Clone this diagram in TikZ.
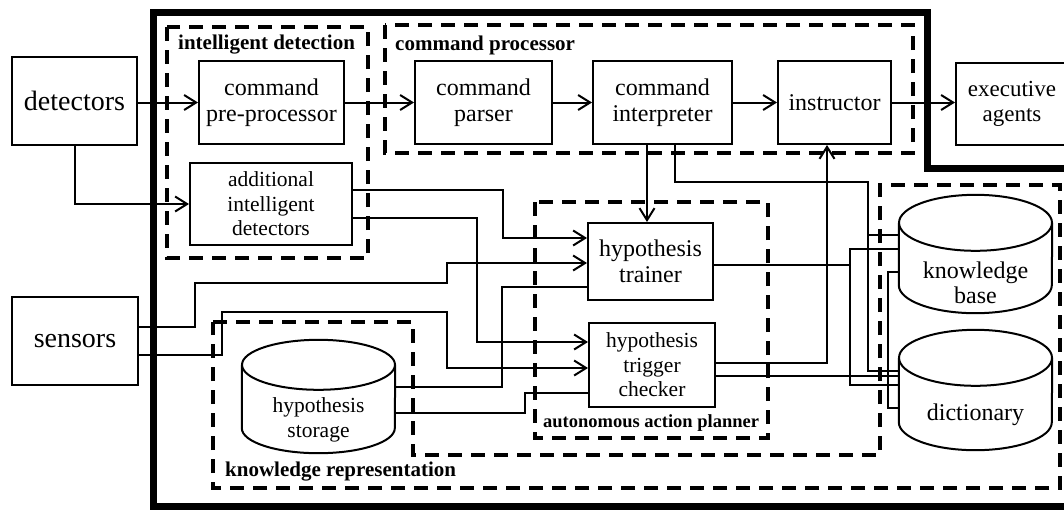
\documentclass[tikz,border=0pt]{standalone}
\usepackage{fontspec}
\setmainfont{Liberation Serif}
\usetikzlibrary{arrows.meta,calc}
\newcommand\cylout[3]{%
  \draw[cylline] ([yshift=-#3pt]#1.north west) -- ([yshift=#3pt]#1.south west)
     arc[start angle=180,end angle=360,x radius=#2,y radius=#3] -- ([yshift=-#3pt]#1.north east);
  \draw[cylline] ([yshift=-#3pt]#1.north) ellipse [x radius=#2,y radius=#3];}
\begin{document}
\begin{tikzpicture}[x=1pt,y=1pt,
  box/.style={draw, line width=2pt, inner sep=0pt, align=center, fill=white},
  cylline/.style={line width=2pt},
  dbox/.style={line width=4pt, dash pattern=on 14pt off 9pt},
  conn/.style={line width=2pt},
  arr/.style={conn, -{Straight Barb[length=12pt,width=15pt]}},
  outer/.style={line width=7pt},
  lbl/.style={font=\bfseries\fontsize{21}{22}\selectfont, anchor=west, inner sep=0pt},
  big/.style={font=\fontsize{28}{30}\selectfont},
  mid/.style={font=\fontsize{24}{25.5}\selectfont},
  small/.style={font=\fontsize{21.5}{24.5}\selectfont}
]
\clip (0,0) rectangle (1064,-509);
\fill[white] (0,0) rectangle (1064,-509);

% dashed groups
\draw[dbox] (167,-27) rectangle (368,-258);
\draw[dbox] (385,-25) rectangle (913,-153);
\draw[dbox] (535,-202) rectangle (768,-438);
\draw[dbox] (213,-322) -- (413,-322) -- (413,-455) -- (880,-455) -- (880,-185)
   -- (1060,-185) -- (1060,-488) -- (213,-488) -- cycle;

% outer border
\draw[outer] (1075,-168) -- (927,-168) -- (927,-12) -- (153,-12) -- (153,-506) -- (1075,-506);

% group labels
\node[lbl] (lid) at (178,-45) {intelligent detection};
\node[lbl] (lcp) at (395,-45) {command processor};
\node[lbl, font=\bfseries\fontsize{18.5}{20}\selectfont] (lap) at (543,-423) {autonomous action planner};
\node[lbl] (lkr) at (225,-472) {knowledge representation};

% nodes
\node[box, big, minimum width=125, minimum height=88] (det) at (74.5,-101) {detectors};
\node[box, big, minimum width=126, minimum height=88] (sen) at (75,-341) {sensors};
\node[box, mid, minimum width=145, minimum height=83] (pre) at (271.5,-102.5) {command\\pre-processor};
\node[box, small, minimum width=162, minimum height=82] (add) at (271,-204) {additional\\intelligent\\detectors};
\node[box, mid, minimum width=137, minimum height=83] (par) at (483.5,-102.5) {command\\parser};
\node[box, mid, minimum width=139, minimum height=83] (int) at (662.5,-102.5) {command\\interpreter};
\node[box, mid, minimum width=113, minimum height=83] (ins) at (834.5,-102.5) {instructor};
\node[box, font=\fontsize{23}{25}\selectfont, minimum width=112, minimum height=82] (exe) at (1012,-104) {executive\\agents};
\node[box, mid, minimum width=125, minimum height=77] (tra) at (650.5,-261.5) {hypothesis\\trainer};
\node[box, small, minimum width=126, minimum height=84] (chk) at (652,-365) {hypothesis\\trigger\\checker};

% cylinders
\node[inner sep=0pt, minimum width=153, minimum height=113] (sto) at (318.5,-396.5) {};
\node[inner sep=0pt, minimum width=153, minimum height=118] (kb) at (975.5,-254) {};
\node[inner sep=0pt, minimum width=153, minimum height=120] (dic) at (975.5,-390) {};
\cylout{sto}{76.5}{25}
\cylout{kb}{76.5}{28}
\cylout{dic}{76.5}{28}
\node[small, align=center] (stot) at (318.5,-420) {hypothesis\\storage};
\node[mid, align=center] (kbt) at (975.5,-283) {knowledge\\base};
\node[mid] (dict) at (975.5,-415) {dictionary};

% connectors
\draw[arr] (det.east |- pre.west) -- (pre.west);
\draw[arr] (pre.east) -- (par.west);
\draw[arr] (par.east) -- (int.west);
\draw[arr] (int.east) -- (ins.west);
\draw[arr] (ins.east) -- (exe.west |- ins.east);
\draw[arr] (det.south) -- (det.south |- add.west) -- (add.west);
\draw[arr] (int.south -| 647,0) -- (tra.north -| 647,0);

\draw[conn] (int.south -| 675,0) |- (868,-182) |- (kb.west |- 0,-235);
\draw[conn] (int.south -| 675,0) |- (868,-182) |- (dic.west |- 0,-371);
\draw[conn] (tra.east |- 0,-265) -- (850,-265) |- (kb.west |- 0,-249);
\draw[conn] (tra.east |- 0,-265) -- (850,-265) |- (dic.west |- 0,-385);
\draw[arr] (chk.east |- 0,-363) -| (ins.south -| 827,0);
\draw[conn] (chk.east |- 0,-376) -- (dic.west |- 0,-376);
\draw[conn] (kb.west |- 0,-272) -| (888,-408) -- (dic.west |- 0,-408);

\draw[arr] (add.east |- 0,-190) -| (503,-238) -- (tra.west |- 0,-238);
\draw[arr] (add.east |- 0,-218) -| (477,-342) -- (chk.west |- 0,-342);
\draw[arr] (sen.east |- 0,-327) -| (195,-283) -| (447,-263) -- (tra.west |- 0,-263);
\draw[arr] (sen.east |- 0,-355) -| (222,-312) -| (447,-368) -- (chk.west |- 0,-368);
\draw[conn] (sto.east |- 0,-387) -| (502,-287) -- (tra.west |- 0,-287);
\draw[conn] (sto.east |- 0,-413) -| (525,-393) -- (chk.west |- 0,-393);
\end{tikzpicture}
\end{document}
